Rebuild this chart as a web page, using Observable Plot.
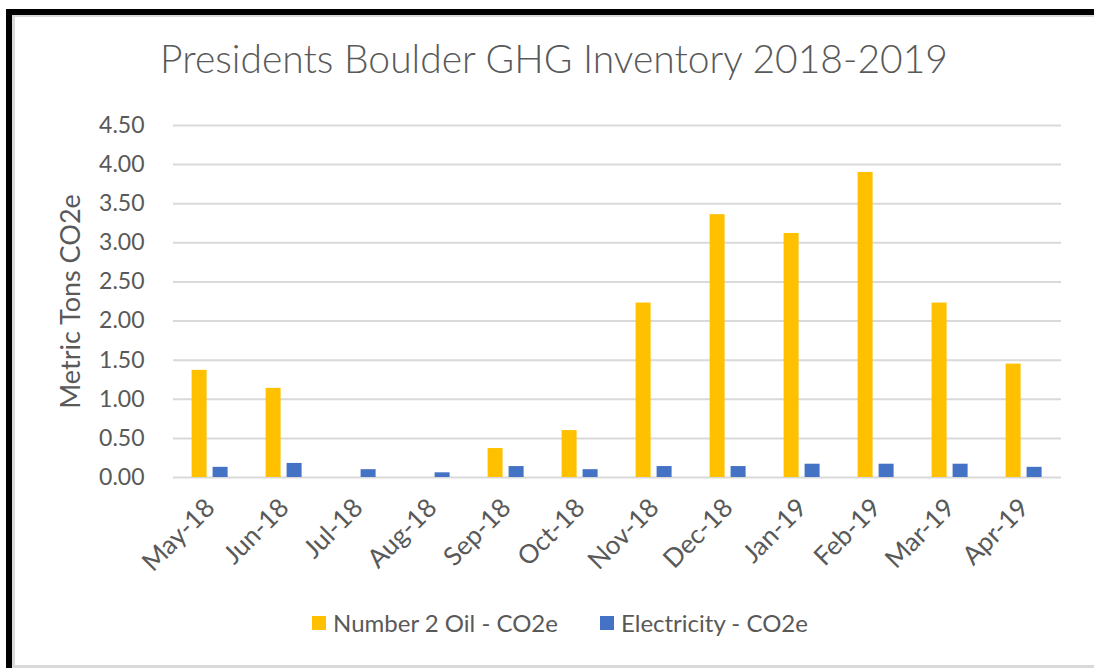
<!DOCTYPE html>
<html>
<head>
<meta charset="utf-8">
<script src="https://cdn.jsdelivr.net/npm/d3@7"></script>
<script src="https://cdn.jsdelivr.net/npm/@observablehq/plot@0.6"></script>
<style>
  html, body { margin: 0; padding: 0; background: #fff; overflow: hidden; }
  body { width: 1094px; height: 668px; position: relative; font-family: Lato, "Open Sans", sans-serif; }
  #frameBlack { position: absolute; left: 6px; top: 9px; width: 1088px; height: 659px; border-left: 6px solid #000; border-top: 6px solid #000; box-sizing: border-box; }
  #frameGray { position: absolute; left: 12px; top: 15px; width: 1082px; height: 653px; border-left: 3px solid #d9d9d9; border-top: 2px solid #d9d9d9; border-bottom: 3px solid #d9d9d9; box-sizing: border-box; }
  #title { position: absolute; left: 0; width: 1108px; top: 35px; text-align: center; font-size: 39px; font-weight: 300; color: #595959; white-space: nowrap; }
  #chart { position: absolute; left: 0; top: 95px; }
  #legend { position: absolute; left: 0; width: 1120px; top: 608px; display: flex; justify-content: center; gap: 42px; font-size: 24px; color: #595959; }
  .item { display: flex; align-items: center; gap: 7px; }
  .sw { width: 14px; height: 14px; display: inline-block; }
  #chart svg text { fill: #595959; }
  #chart g[aria-label="y-axis tick label"] text { font-size: 23px; }
  #chart g[aria-label="y-axis label"] text { font-size: 27px; }
  #chart g[aria-label="fx-axis tick label"] text { font-size: 26px; }
</style>
</head>
<body>
<div id="frameBlack"></div>
<div id="frameGray"></div>
<div id="title">Presidents Boulder GHG Inventory 2018-2019</div>
<div id="chart"></div>
<div id="legend"></div>
<script>
const months = ["May-18", "Jun-18", "Jul-18", "Aug-18", "Sep-18", "Oct-18", "Nov-18", "Dec-18", "Jan-19", "Feb-19", "Mar-19", "Apr-19"];
const oil = [1.37, 1.14, 0, 0, 0.37, 0.60, 2.23, 3.36, 3.12, 3.90, 2.23, 1.45];
const electricity = [0.13, 0.18, 0.10, 0.06, 0.14, 0.10, 0.14, 0.14, 0.17, 0.17, 0.17, 0.13];
const seriesNames = ["Number 2 Oil - CO2e", "Electricity - CO2e"];
const seriesColors = ["#FFC000", "#4472C4"];
const yTicks = [0, 0.5, 1, 1.5, 2, 2.5, 3, 3.5, 4, 4.5];
const yLabel = "Metric Tons CO2e";

const data = [];
months.forEach((m, i) => {
  data.push({month: m, series: seriesNames[0], value: oil[i]});
  data.push({month: m, series: seriesNames[1], value: electricity[i]});
});

const chart = Plot.plot({
  width: 1094,
  height: 492,
  marginLeft: 168.4,
  marginRight: 27.4,
  marginTop: 30,
  marginBottom: 110,
  style: {fontFamily: "Lato, 'Open Sans', sans-serif", color: "#595959", background: "transparent"},
  fx: {domain: months, padding: 0, label: null, tickRotate: -45, tickSize: 0, tickPadding: 26},
  x: {domain: seriesNames, paddingInner: 0.27, paddingOuter: 0.89, axis: null},
  y: {domain: [0, 4.5], ticks: yTicks, tickFormat: d3.format(".2f"), tickSize: 0, tickPadding: 29,
      label: yLabel, labelAnchor: "center", labelArrow: "none", labelOffset: 113},
  color: {domain: seriesNames, range: seriesColors},
  marks: [
    Plot.ruleY(yTicks, {stroke: "#d9d9d9", strokeWidth: 2}),
    Plot.barY(data, {fx: "month", x: "series", y: "value", fill: "series"})
  ]
});
document.getElementById("chart").appendChild(chart);

const legend = document.getElementById("legend");
seriesNames.forEach((name, i) => {
  const item = document.createElement("div");
  item.className = "item";
  const sw = document.createElement("span");
  sw.className = "sw";
  sw.style.background = seriesColors[i];
  const t = document.createElement("span");
  t.textContent = name;
  item.appendChild(sw);
  item.appendChild(t);
  legend.appendChild(item);
});
</script>
</body>
</html>
